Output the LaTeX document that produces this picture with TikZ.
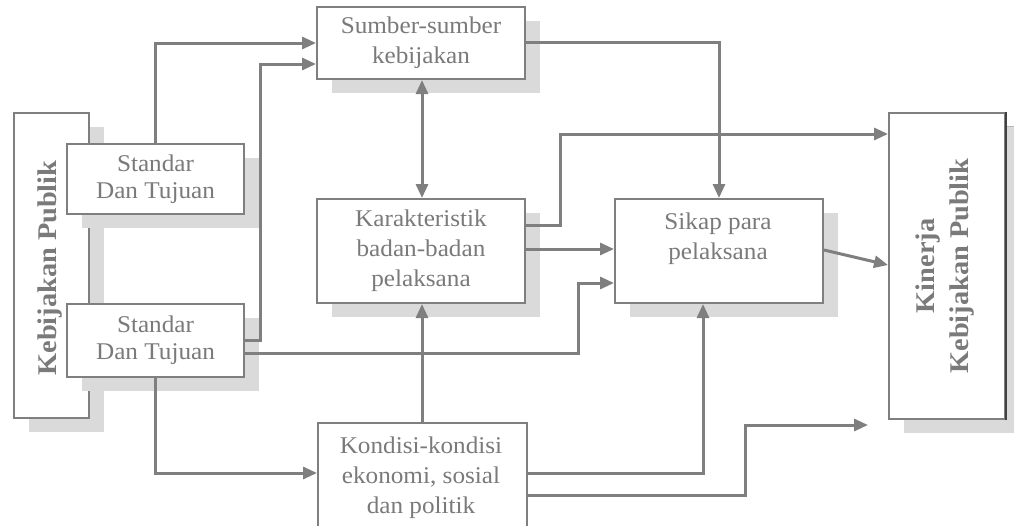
\documentclass[tikz,border=0pt]{standalone}
\usepackage{fontspec}
\setmainfont{Liberation Serif}[FakeStretch=1.05]
\usetikzlibrary{arrows.meta,shadows,calc}
\definecolor{linec}{HTML}{7F7F7F}
\definecolor{textc}{HTML}{7A7A7A}
\definecolor{shadc}{HTML}{DADADA}
\definecolor{shadd}{HTML}{B8B8B8}
\begin{document}
\begin{tikzpicture}[x=1pt,y=-1pt,
  box/.style={draw=linec, line width=2pt, fill=white, anchor=north west,
    inner sep=0pt, text=textc, align=center,
    font=\fontsize{24}{30}\selectfont},
  shbox/.style={box, general shadow={fill=shadc, shadow xshift=15pt, shadow yshift=-14pt}},
  lbl/.style={text=textc, align=center, inner sep=0pt, font=\fontsize{24}{30}\selectfont},
  vlbl/.style={text=textc, align=center, inner sep=0pt, rotate=90,
    font=\fontsize{27}{34}\selectfont\bfseries},
  arr/.style={draw=linec, line width=3pt, -{Triangle[length=14pt,width=12pt]}},
  arrb/.style={draw=linec, line width=3pt, {Triangle[length=14pt,width=12pt]}-{Triangle[length=14pt,width=12pt]}}
]
\useasboundingbox (0,0) rectangle (1014,525);
\clip (0,0) rectangle (1014,525);
\fill[white] (0,0) rectangle (1014,525);

% left tall box
\node[shbox, minimum width=75pt, minimum height=305pt] (kp) at (13,112) {};
\node[vlbl] (kpt) at (50,268) {Kebijakan Publik};

% standar boxes
\node[shbox, minimum width=177pt, minimum height=70pt, font=\fontsize{24}{27}\selectfont] (s1) at (66,143) {Standar\\Dan Tujuan};
\node[shbox, minimum width=177pt, minimum height=73pt, font=\fontsize{24}{27}\selectfont] (s2) at (66,303) {Standar\\Dan Tujuan};

% middle boxes
\node[shbox, minimum width=208pt, minimum height=72pt] (sb) at (316,6) {Sumber-sumber\\kebijakan};
\node[shbox, minimum width=208pt, minimum height=104pt] (kr) at (316,198) {Karakteristik\\badan-badan\\pelaksana};
\node[shbox, minimum width=208pt, minimum height=104pt] (sk) at (614,198) {};
\node[lbl] (skt) at (718,239) {Sikap para\\pelaksana};
\node[box, minimum width=209pt, minimum height=130pt] (kd) at (317,422) {};
\node[lbl] (kdt) at (421,478) {Kondisi-kondisi\\ekonomi, sosial\\dan politik};

% right tall box
\fill[shadd] (1004,126) rectangle (1014,433);
\node[shbox, minimum width=116pt, minimum height=306pt] (kn) at (888,112) {};
\draw[color=black!75, line width=2pt] (kn.north east) -- (kn.south east);
\node[vlbl] (knt) at (945,266) {Kinerja\\Kebijakan Publik};

% connectors
\draw[arr] (s1.north -| 155,0) |- (sb.west |- 0,43);
\draw[arr] (s2.east |- 0,340) -| (260,64) -- (sb.west |- 0,64);
\draw[arr] (s2.east |- 0,353) -| (578,283) -- (sk.west |- 0,283);
\draw[arr] (s2.south -| 155,0) |- (kd.west |- 0,473);
\draw[arrb] (sb.south -| 422,0) -- (kr.north -| 422,0);
\draw[arr] (sb.east |- 0,42) -| (sk.north);
\draw[arr] (kr.east |- 0,225) -| (560,134) -- (kn.west |- 0,134);
\draw[arr] (kr.east |- 0,249) -- (sk.west |- 0,249);
\draw[arr] (kd.north -| 422,0) -- (kr.south -| 422,0);
\draw[arr] (kd.east |- 0,473) -| (sk.south -| 703,0);
\coordinate (free) at (868,425);
\draw[arr] (kd.east |- 0,495) -| (745,425) -- (free);
\draw[arr] (sk.east |- 0,250) -- (kn.west |- 0,265);
\end{tikzpicture}
\end{document}
